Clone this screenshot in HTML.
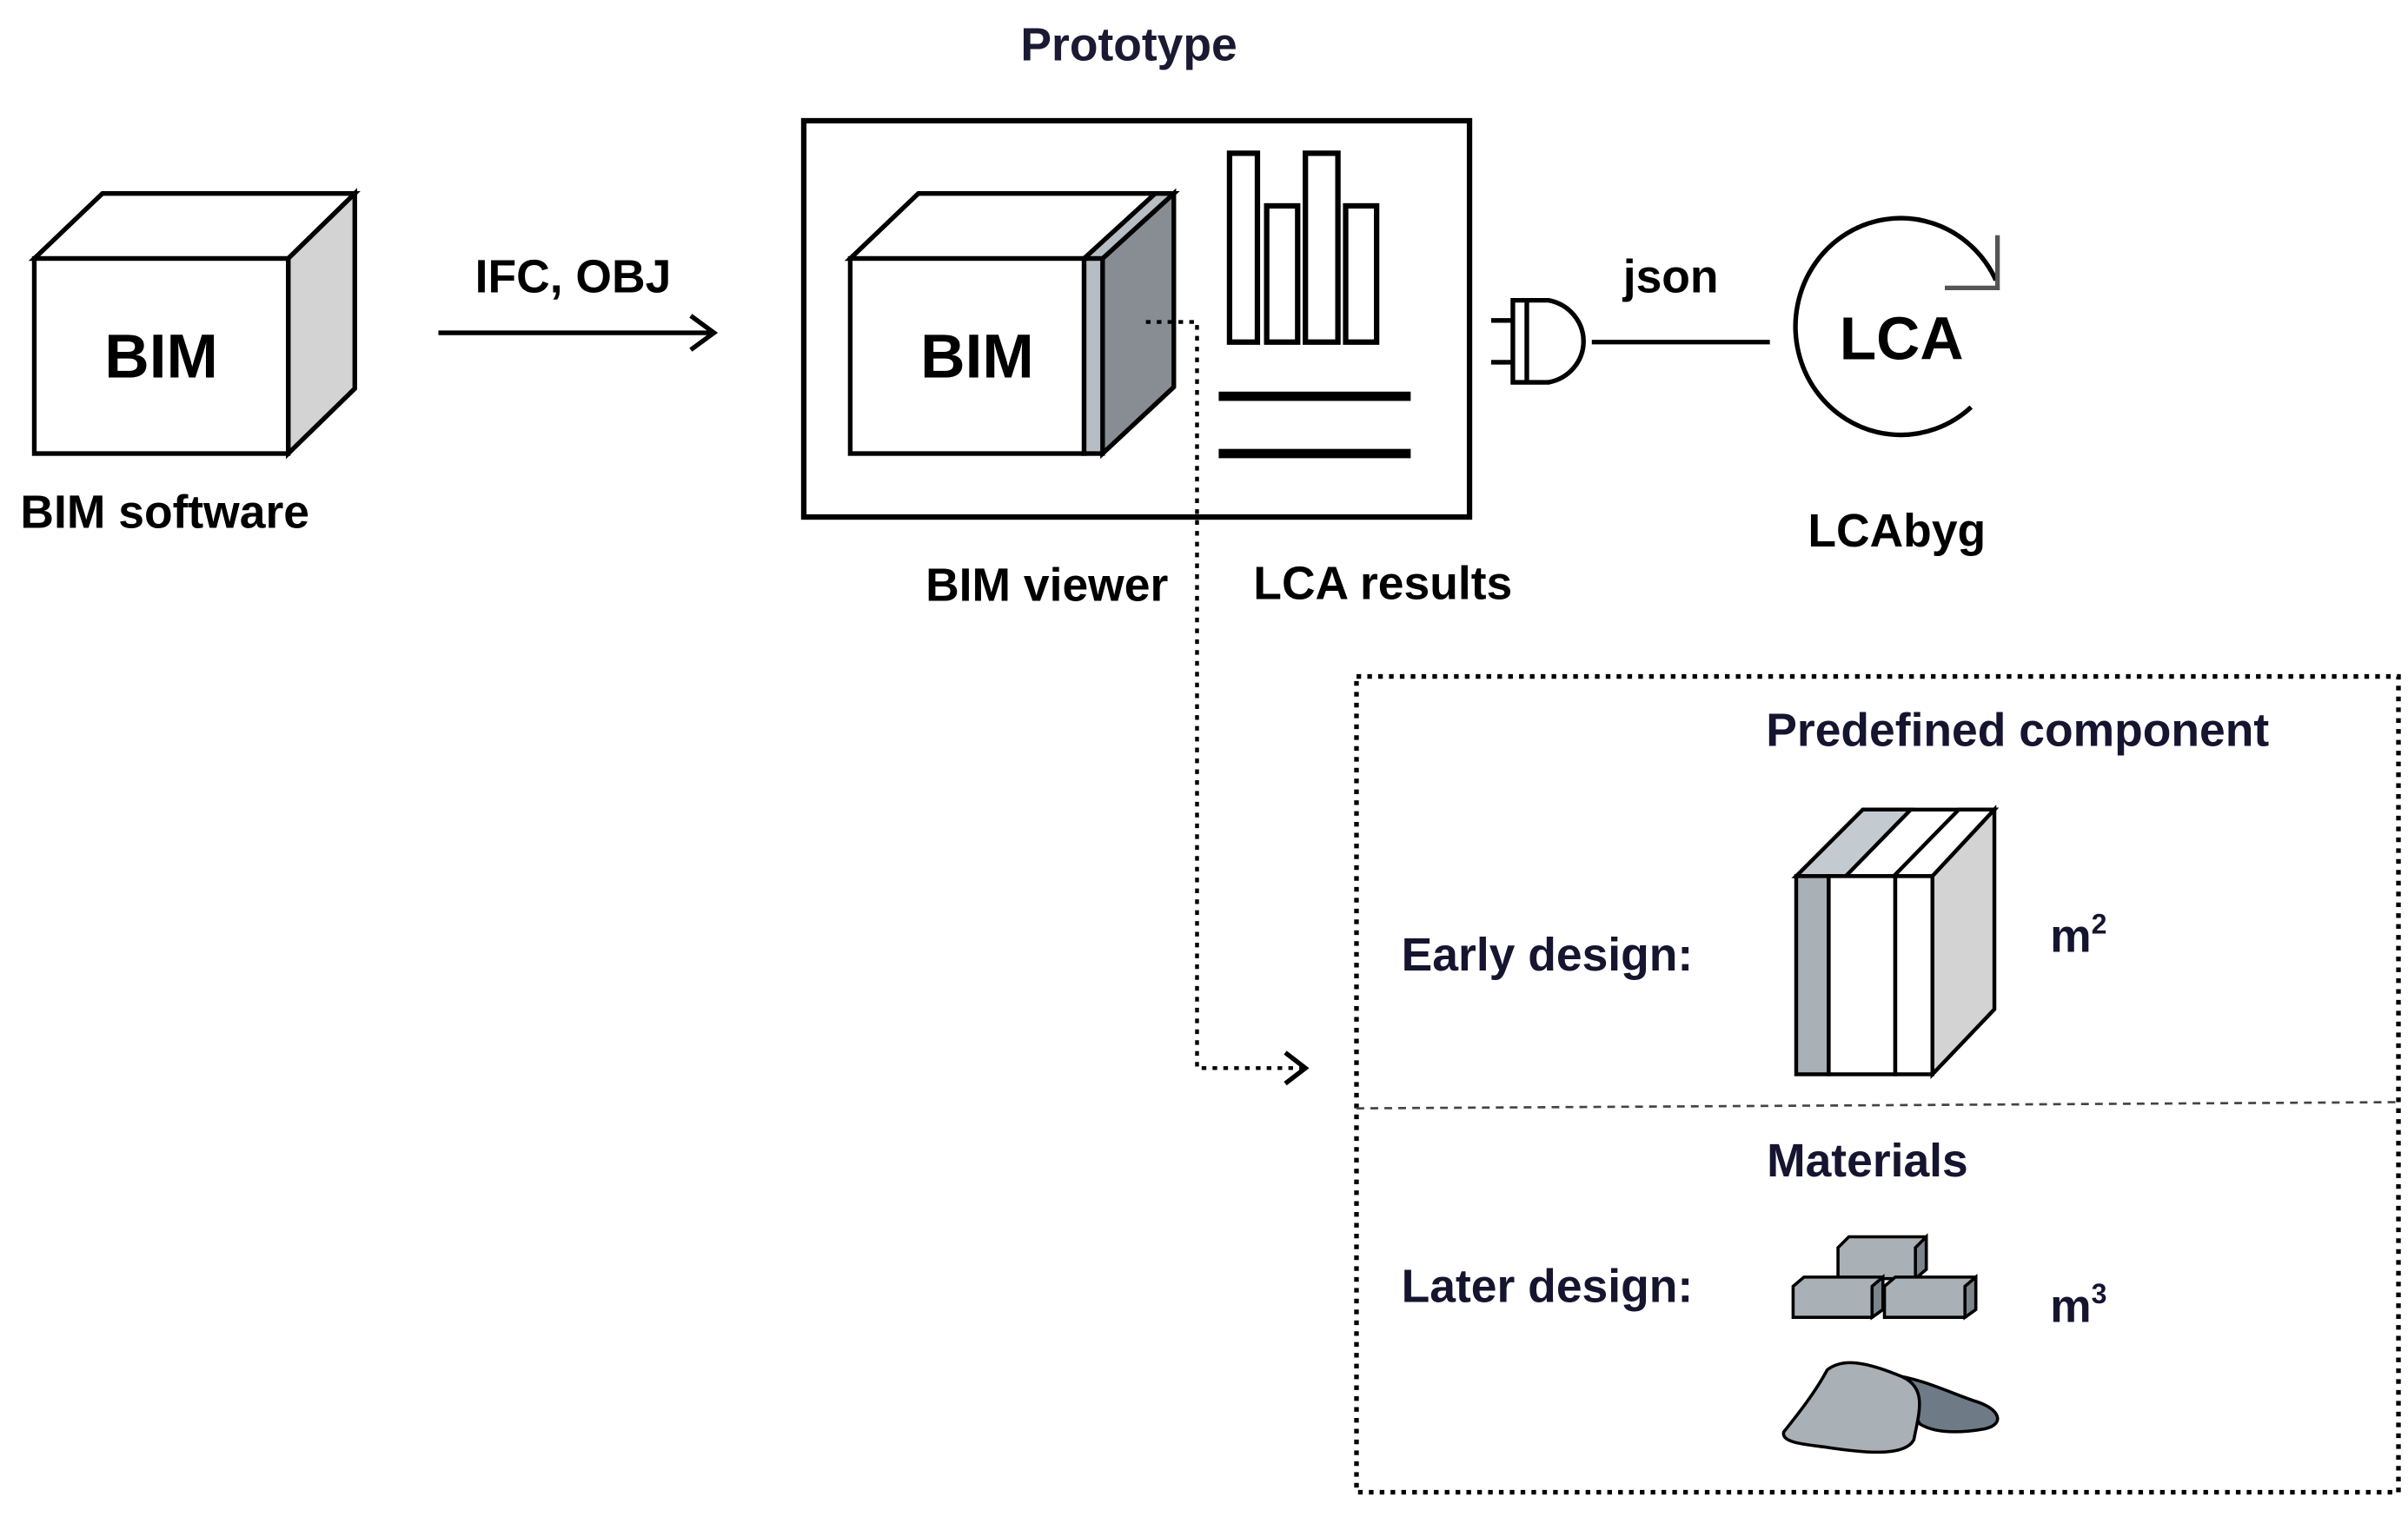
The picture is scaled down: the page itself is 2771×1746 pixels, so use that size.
<!DOCTYPE html>
<html><head><style>html,body{margin:0;padding:0;background:#fff}svg{display:block}</style></head>
<body>
<svg width="2771" height="1746" viewBox="0 0 1555 980" xmlns="http://www.w3.org/2000/svg" font-family="Liberation Sans, Arial, sans-serif" font-weight="bold">
<rect width="1555" height="980" fill="#fff"/>
<g stroke="#000" stroke-width="3" stroke-linejoin="miter">
<polygon points="22,167 66,125 229,125 186,167" fill="#fff"/>
<polygon points="186,167 229,125 229,251 186,293" fill="#d3d3d3"/>
<rect x="22" y="167" width="164" height="126" fill="#fff"/>
</g>
<text x="104" y="244" font-size="40" text-anchor="middle">BIM</text>
<text x="13" y="341" font-size="30">BIM software</text>
<line x1="283" y1="215" x2="460" y2="215" stroke="#000" stroke-width="3"/>
<polyline points="446,204 461,215 446,226" fill="none" stroke="#000" stroke-width="3"/>
<text x="370" y="189" font-size="30" text-anchor="middle">IFC, OBJ</text>
<text x="729" y="39" font-size="30" text-anchor="middle" fill="#1a1a33">Prototype</text>
<rect x="519" y="78" width="430" height="256" fill="none" stroke="#000" stroke-width="3.5"/>
<g stroke="#000" stroke-width="3">
<polygon points="549,167 593,125 758,125 712,167" fill="#fff"/>
<polygon points="712,167 758,125 758,250 712,293" fill="#878d93"/>
<polygon points="700,167 746,125 758,125 712,167" fill="#b6bec4"/>
<rect x="700" y="167" width="12" height="126" fill="#b6bec4"/>
<rect x="549" y="167" width="151" height="126" fill="#fff"/>
</g>
<text x="631" y="244" font-size="40" text-anchor="middle">BIM</text>
<g stroke="#000" stroke-width="3.5" fill="#fff">
<rect x="794" y="99" width="18" height="122"/>
<rect x="818" y="133" width="20" height="88"/>
<rect x="843" y="99" width="21" height="122"/>
<rect x="869" y="133" width="20" height="88"/>
</g>
<rect x="787" y="253" width="124" height="6"/>
<rect x="787" y="290" width="124" height="6"/>
<polyline points="740,208 773,208 773,690 843,690" fill="none" stroke="#000" stroke-width="2.5" stroke-dasharray="3,4"/>
<polyline points="830,680 843,690 830,700" fill="none" stroke="#000" stroke-width="3"/>
<text x="676" y="388" font-size="30" text-anchor="middle">BIM viewer</text>
<text x="893" y="387" font-size="30" text-anchor="middle">LCA results</text>
<g stroke="#000" stroke-width="3" fill="#fff">
<line x1="963" y1="207" x2="977" y2="207"/>
<line x1="963" y1="234" x2="977" y2="234"/>
<path d="M977,194 L1000,194 A28,27 0 0 1 1000,247 L977,247 Z"/>
<line x1="986" y1="194" x2="986" y2="247"/>
</g>
<line x1="1028" y1="221" x2="1143" y2="221" stroke="#000" stroke-width="3"/>
<text x="1079" y="189" font-size="30" text-anchor="middle">json</text>
<path d="M1289,181 A68,70 0 1 0 1273,263" fill="none" stroke="#000" stroke-width="3"/>
<path d="M1290,152 L1290,186 L1256,186" fill="none" stroke="#555" stroke-width="3"/>
<text x="1228" y="232" font-size="39" text-anchor="middle">LCA</text>
<text x="1225" y="353" font-size="30" text-anchor="middle">LCAbyg</text>
<rect x="876" y="437" width="673" height="527" fill="none" stroke="#000" stroke-width="3" stroke-dasharray="3,4"/>
<line x1="876" y1="716" x2="1549" y2="712" stroke="#444" stroke-width="1.5" stroke-dasharray="5,4"/>
<g fill="#151530">
<text x="1303" y="482" font-size="30" text-anchor="middle">Predefined component</text>
<text x="905" y="627" font-size="30">Early design:</text>
<text x="1324" y="615" font-size="30">m<tspan font-size="18" dy="-12">2</tspan></text>
<text x="1206" y="760" font-size="30" text-anchor="middle">Materials</text>
<text x="905" y="841" font-size="30">Later design:</text>
<text x="1324" y="854" font-size="30">m<tspan font-size="18" dy="-12">3</tspan></text>
</g>
<g stroke="#000" stroke-width="2.5">
<polygon points="1160,566 1203,523 1288,523 1248,566" fill="#fff"/>
<polygon points="1160,566 1203,523 1234,523 1192,566" fill="#c4cbd0"/>
<polygon points="1223,566 1265,523 1288,523 1248,566" fill="#fff"/>
<polygon points="1248,566 1288,523 1288,652 1248,694" fill="#d3d3d3"/>
<rect x="1160" y="566" width="21" height="128" fill="#a9b0b6"/>
<rect x="1181" y="566" width="43" height="128" fill="#fff"/>
<rect x="1224" y="566" width="24" height="128" fill="#fff"/>
</g>
<g stroke="#000" stroke-width="2" fill="#a9b0b6">
<polygon points="1187,806 1194,799 1244,799 1244,820 1237,826 1187,826"/>
<polygon points="1237,806 1244,799 1244,820 1237,826" fill="#7d858c"/>
<polygon points="1158,831 1165,825 1216,825 1216,846 1209,851 1158,851"/>
<polygon points="1209,831 1216,825 1216,846 1209,851" fill="#7d858c"/>
<polygon points="1217,831 1224,825 1276,825 1276,846 1269,851 1217,851"/>
<polygon points="1269,831 1276,825 1276,846 1269,851" fill="#7d858c"/>
</g>
<g stroke="#000" stroke-width="2">
<path d="M1220,888 C1240,890 1260,900 1275,905 C1292,910 1295,920 1282,923 C1265,926 1250,926 1240,920 Z" fill="#6e7b87"/>
<path d="M1152,925 C1160,915 1172,900 1180,885 C1190,877 1205,880 1225,888 C1245,895 1240,910 1236,930 C1230,942 1200,938 1180,935 C1165,933 1150,932 1152,925 Z" fill="#a9b0b6"/>
</g>
</svg>
</body></html>
